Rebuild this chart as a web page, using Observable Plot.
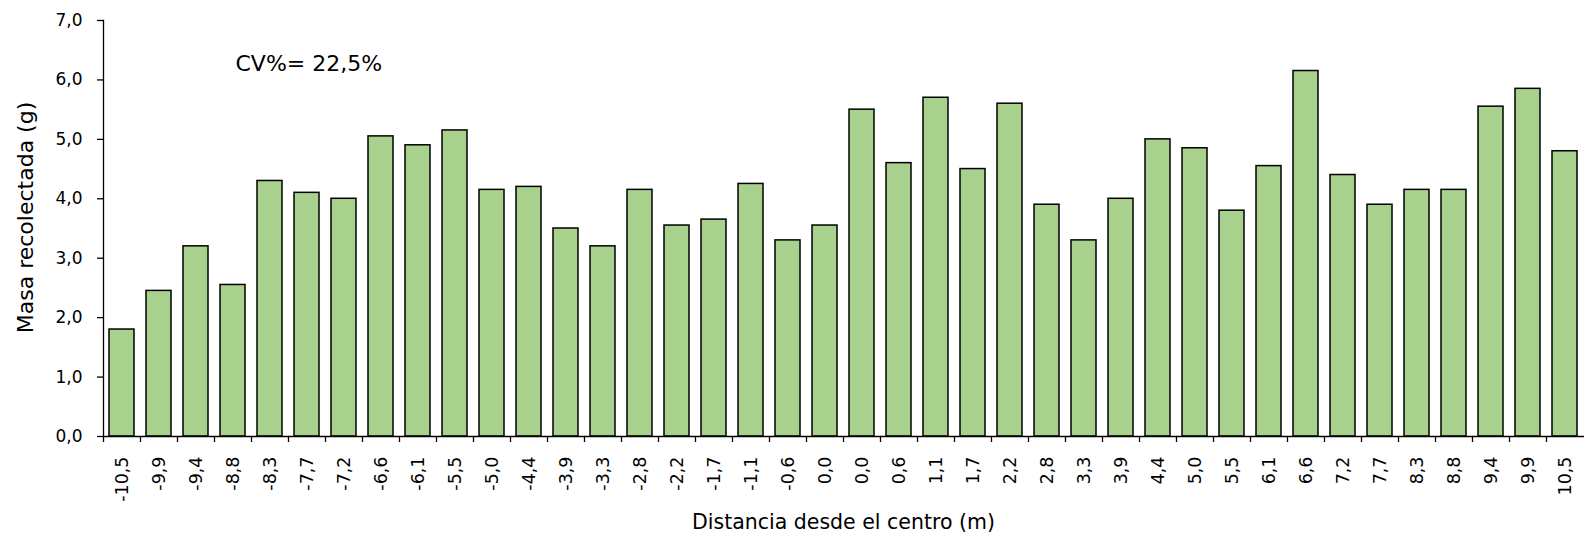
<!DOCTYPE html>
<html><head><meta charset="utf-8">
<script src="https://cdn.jsdelivr.net/npm/d3@7"></script>
<script src="https://cdn.jsdelivr.net/npm/@observablehq/plot@0.6"></script>
<style>html,body{margin:0;padding:0;background:#fff;overflow:hidden}</style>
</head><body><div id="chart"></div>
<script>
const distances = ["-10,5","-9,9","-9,4","-8,8","-8,3","-7,7","-7,2","-6,6","-6,1","-5,5","-5,0","-4,4","-3,9","-3,3","-2,8","-2,2","-1,7","-1,1","-0,6","0,0","0,0","0,6","1,1","1,7","2,2","2,8","3,3","3,9","4,4","5,0","5,5","6,1","6,6","7,2","7,7","8,3","8,8","9,4","9,9","10,5"];
const masses = [1.8,2.45,3.2,2.55,4.3,4.1,4.0,5.05,4.9,5.15,4.15,4.2,3.5,3.2,4.15,3.55,3.65,4.25,3.3,3.55,5.5,4.6,5.7,4.5,5.6,3.9,3.3,4.0,5.0,4.85,3.8,4.55,6.15,4.4,3.9,4.15,4.15,5.55,5.85,4.8];
const yTicks = [0,1,2,3,4,5,6,7];
const yTitle = "Masa recolectada (g)";
const xTitle = "Distancia desde el centro (m)";
const cvLabel = "CV%= 22,5%";

const data = distances.map((d, i) => ({i, d, m: masses[i]}));
const W = 1584, H = 537, mL = 103, mR = 1, mT = 20, mB = 101;
const step = (W - mL - mR) / distances.length;
const fmt = v => v.toFixed(1).replace(".", ",");

const chart = Plot.plot({
  width: W, height: H,
  marginLeft: mL, marginRight: mR, marginTop: mT, marginBottom: mB,
  style: {fontFamily: "'DejaVu Sans', sans-serif", background: "#fff", color: "#000"},
  x: {type: "band", domain: d3.range(distances.length), paddingInner: 0.32, paddingOuter: 0.16, axis: null},
  y: {domain: [0, 7], axis: null},
  marks: [
    Plot.barY(data, {x: "i", y: "m", fill: "#A9D18E", stroke: "#000", strokeWidth: 1.5}),
    Plot.frame({anchor: "left", stroke: "#000", strokeWidth: 1.3}),
    Plot.frame({anchor: "bottom", stroke: "#000", strokeWidth: 1.3}),
    Plot.axisY({ticks: yTicks, tickFormat: fmt, tickSize: 6, tickPadding: 15, fontSize: 17, label: null, stroke: "#000", strokeWidth: 1.3}),
    Plot.axisX({tickFormat: () => "", tickSize: 6, dx: -step / 2, label: null, stroke: "#000", strokeWidth: 1.3}),
    Plot.axisX({tickFormat: i => distances[i], tickRotate: -90, tickSize: 0, tickPadding: 20, fontSize: 17.5, label: null}),
    Plot.text([yTitle], {frameAnchor: "left", textAnchor: "middle", rotate: -90, dx: -78, dy: -11, fontSize: 22, fill: "#000"}),
    Plot.text([xTitle], {frameAnchor: "bottom", textAnchor: "middle", dy: 92, fontSize: 20.5, fill: "#000"}),
    Plot.text([cvLabel], {frameAnchor: "top-left", textAnchor: "start", dx: 132, dy: 35, fontSize: 22, fill: "#000"})
  ]
});
document.getElementById("chart").appendChild(chart);
</script>
</body></html>
